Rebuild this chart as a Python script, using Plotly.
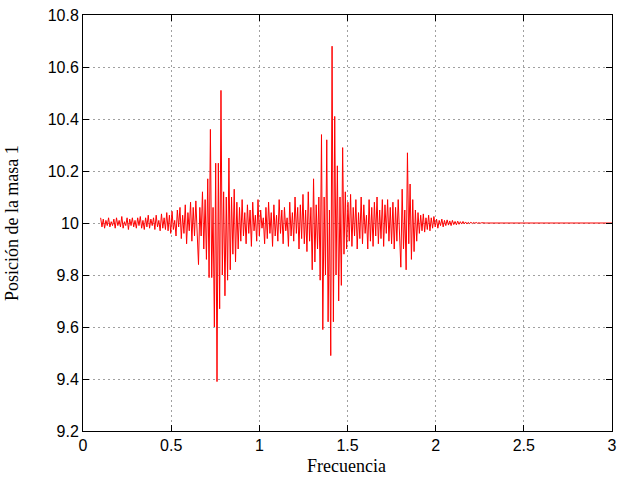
import numpy as np
import plotly.graph_objects as go

# barrido de frecuencia: paso fijo desde 0.1
frec_inicio = 0.1
paso = 0.0075

# posicion de la masa 1, leida por tramos
tramo_bajo = [
    10.02, 9.985, 10.015, 9.98, 10.01, 9.99, 10.02, 9.985, 10.005, 9.99,
    10.015, 9.98, 10.02, 9.99, 10.01, 9.985, 10.025, 9.98, 10.005, 9.99,
    10.02, 9.975, 10.015, 9.99, 10.02, 9.985, 10.01, 9.98, 10.02, 9.99,
    10.025, 9.98, 10.01, 9.975, 10.02, 9.985, 10.03, 9.98, 10.015, 9.99,
    10.02, 9.975, 10.03, 9.985, 10.01, 9.97, 10.035, 9.98, 10.02, 9.975,
    10.04, 9.97, 10.03, 9.96,
]
subida = [
    10.045, 9.975, 10.01, 9.95, 10.05, 9.985, 10.06, 9.94, 10.03, 9.96,
    10.07, 9.92, 10.04, 9.97, 10.08, 9.93, 10.06, 9.95, 10.085, 9.93,
]
pico1 = [
    9.84, 10.06, 9.95, 10.12, 9.90, 10.09, 9.86, 10.17, 9.79, 10.36,
    9.79, 10.06, 9.60, 10.23, 9.39, 10.23, 9.67, 10.51, 9.80, 10.12,
    9.72, 10.10, 9.78, 10.25, 9.82, 10.10, 9.88, 10.13, 9.85, 10.08,
    9.90,
]
medio1 = [
    10.06, 9.93, 10.09, 9.95, 10.04, 9.92, 10.07, 9.96, 10.05, 9.91,
    10.08, 9.97, 10.03, 9.93, 10.09, 9.95, 10.05, 9.98, 10.02, 9.92,
    10.06, 9.94, 10.08, 9.96, 10.04, 9.91, 10.07, 9.95, 10.03, 9.93,
    10.09, 9.96, 10.05, 9.92, 10.06, 9.97, 10.02, 9.91, 10.08, 9.95,
    10.04, 9.93, 10.10, 9.96, 10.06, 9.90, 10.07, 9.94, 10.11, 9.92,
    10.05, 9.89, 10.12, 9.93, 10.06,
]
pico2 = [
    9.82, 10.17, 9.85, 10.07, 9.90, 10.10, 9.78, 10.34, 9.59, 10.10,
    9.80, 10.32, 9.62, 10.05, 9.49, 10.68, 9.62, 10.41, 9.80, 10.22,
    9.70, 10.10, 9.76, 10.29, 9.88, 10.12, 9.90,
]
medio2 = [
    10.08, 9.93, 10.11, 9.91, 10.06, 9.95, 10.09, 9.90, 10.04, 9.94,
    10.10, 9.92, 10.07, 9.96, 10.03, 9.90, 10.09, 9.93, 10.06, 9.91,
    10.08, 9.95, 10.10, 9.92, 10.05, 9.94, 10.09, 9.91, 10.07, 9.96,
    10.09, 9.93, 10.06,
]
pico3 = [
    9.92, 10.08, 9.90, 10.06, 9.93, 10.09, 9.95, 9.83, 10.13, 9.90,
    10.05, 9.82, 10.27, 9.92, 10.15, 9.86, 10.09, 9.89, 10.05, 9.93,
]
decaimiento = [
    10.04, 9.96, 10.03, 9.97, 10.035, 9.965, 10.02, 9.975, 10.03, 9.97,
    10.02, 9.98, 10.025, 9.985, 10.015, 9.98, 10.01, 9.99, 10.015, 9.985,
    10.01, 9.99, 10.012, 9.992, 10.008, 9.99, 10.01, 9.994, 10.006, 9.993,
    10.007, 9.995, 10.005, 9.996, 10.006, 9.997, 10.004, 9.996, 10.003, 9.998,
    10.003, 9.998, 10.002, 9.999, 10.002, 9.999, 10.001, 9.999, 10.001, 10.0,
    10.0, 10.0, 10.0,
]
cola = [
    10.0, 10.0, 10.0, 10.0, 10.0, 10.0, 10.0, 10.0, 10.0, 10.0,
    10.0, 10.0, 10.0, 10.0, 10.0, 10.0, 10.0, 10.0, 10.0, 10.0,
    10.0, 10.0, 10.0, 10.0, 10.0, 10.0, 10.0, 10.0, 10.0, 10.0,
    10.0, 10.0, 10.0, 10.0, 10.0, 10.0, 10.0, 10.0, 10.0, 10.0,
    10.0, 10.0, 10.0, 10.0, 10.0, 10.0, 10.0, 10.0, 10.0, 10.0,
    10.0, 10.0, 10.0, 10.0, 10.0, 10.0, 10.0, 10.0, 10.0, 10.0,
    10.0, 10.0, 10.0, 10.0, 10.0, 10.0, 10.0, 10.0, 10.0, 10.0,
    10.0, 10.0, 10.0, 10.0, 10.0, 10.0, 10.0, 10.0, 10.0, 10.0,
    10.0, 10.0, 10.0, 10.0, 10.0, 10.0, 10.0, 10.0, 10.0, 10.0,
    10.0, 10.0, 10.0, 10.0, 10.0,
]

posicion = tramo_bajo + subida + pico1 + medio1 + pico2 + medio2 + pico3 + decaimiento + cola
frecuencia = frec_inicio + paso * np.arange(len(posicion))

fig = go.Figure()
fig.add_trace(
    go.Scatter(
        x=frecuencia,
        y=posicion,
        mode='lines',
        line=dict(color='#ff0000', width=1),
        showlegend=False
        )
    )

eje = dict(
    showline=True,
    linewidth=1,
    linecolor='black',
    mirror='ticks',
    ticks='inside',
    ticklen=6,
    tickcolor='black',
    showgrid=True,
    gridcolor='#a0a0a0',
    griddash='2px,3px',
    gridwidth=1,
    zeroline=False,
    automargin=False,
    ticklabeloverflow='allow',
    tickfont=dict(family='Liberation Sans', size=16, color='black'),
    )

fig.update_xaxes(
    **eje,
    range=[0, 3],
    tickvals=[0, 0.5, 1, 1.5, 2, 2.5, 3],
    ticktext=['0', '0.5', '1', '1.5', '2', '2.5', '3'],
    )
fig.update_yaxes(
    **eje,
    range=[9.2, 10.8],
    tickvals=[9.2, 9.4, 9.6, 9.8, 10, 10.2, 10.4, 10.6, 10.8],
    ticktext=['9.2', '9.4', '9.6', '9.8', '10', '10.2', '10.4', '10.6', '10.8'],
    )

'''Titulos de los ejes como anotaciones, para fijar su sitio'''
titulo_font = dict(family='Liberation Serif', size=18, color='black')
fig.add_annotation(
    text='Frecuencia', xref='paper', yref='paper',
    x=0.499, y=-0.084, xanchor='center', yanchor='middle',
    showarrow=False, font=titulo_font
    )
fig.add_annotation(
    text='Posición de la masa 1', xref='paper', yref='paper',
    x=-0.134, y=0.5, xanchor='center', yanchor='middle',
    textangle=-90, showarrow=False, font=titulo_font
    )

fig.update_layout(
    width=640,
    height=480,
    margin=dict(l=83, r=28, t=15, b=49),
    plot_bgcolor='white',
    paper_bgcolor='white',
    )

# quitar el margen de 8px del body para que la figura empiece en (0, 0)
fig.write_html(
    "out.html",
    config={'displayModeBar': False},
    post_script="document.body.style.margin='0';"
    )
